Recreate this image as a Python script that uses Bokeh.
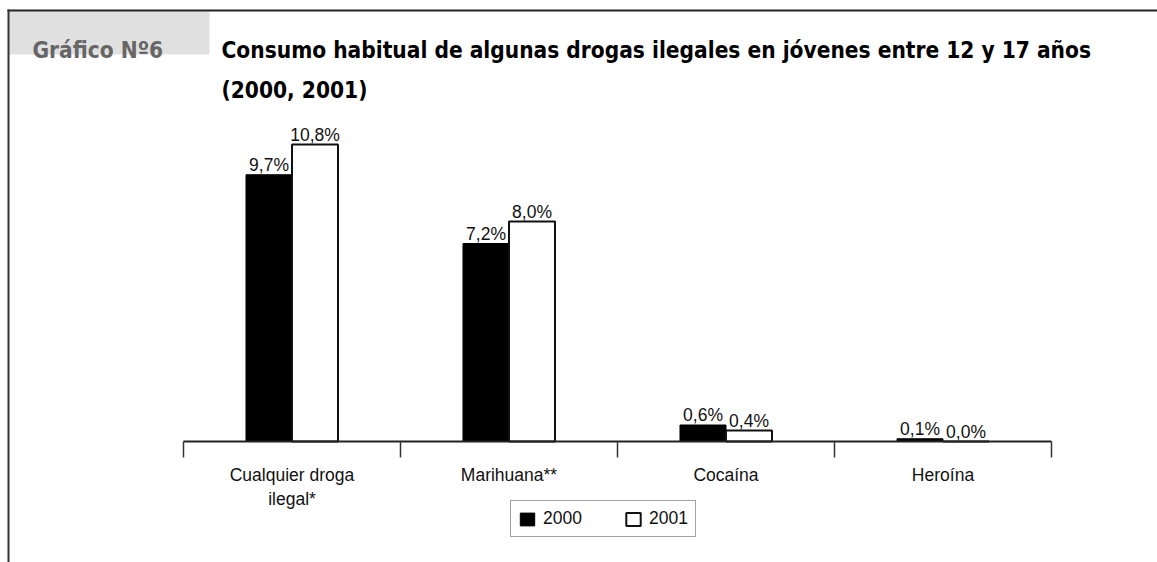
from bokeh.plotting import figure
from bokeh.models import (ColumnDataSource, Range1d, LinearAxis, FixedTicker,
                          Legend, LegendItem)
from bokeh.core.properties import value
from bokeh.embed import file_html
from bokeh.resources import INLINE

categories = ["Cualquier droga\nilegal*", "Marihuana**", "Cocaína", "Heroína"]
years = ["2000", "2001"]
values_2000 = [9.7, 7.2, 0.6, 0.1]
values_2001 = [10.8, 8.0, 0.4, 0.0]

badge_text = "Gráfico Nº6"
title_line1 = "Consumo habitual de algunas drogas ilegales en jóvenes entre 12 y 17 años"
title_line2 = "(2000, 2001)"

W, H = 1157, 562
AX_L, AX_R, AX_Y = 183, 1051, 441   # canvas px of the category axis
PX_PER_PCT = 27.5

BODY_FONT = "Liberation Sans"
HEAD_FONT = "'DejaVu Sans Condensed', 'Roboto Condensed', 'Liberation Sans Narrow', 'Arial Narrow', monospace"

ncat = len(categories)
px_per_cat = (AX_R - AX_L) / ncat

p = figure(width=W, height=H, output_backend="svg", toolbar_location=None,
           x_range=Range1d(-AX_L / px_per_cat, ncat + (W - AX_R) / px_per_cat),
           y_range=Range1d(-(H - AX_Y) / PX_PER_PCT, AX_Y / PX_PER_PCT),
           x_axis_location=None, y_axis_location=None, title=None)
p.extra_x_ranges = {"px": Range1d(0, W)}
p.extra_y_ranges = {"px": Range1d(H, 0)}
p.min_border_left = 0
p.min_border_right = 0
p.min_border_top = 0
p.min_border_bottom = 0
p.outline_line_color = None
p.xgrid.visible = False
p.ygrid.visible = False
p.background_fill_color = "white"
p.border_fill_color = "white"

# ---- header decorations (page frame, badge, title) ----
p.quad(left=[8], right=[209], top=[11], bottom=[54], x_range_name="px",
       y_range_name="px", fill_color="#e0e0e0", line_color=None)
p.quad(left=[7], right=[W], top=[9], bottom=[11], x_range_name="px",
       y_range_name="px", fill_color="#222222", line_color=None)
p.quad(left=[7], right=[9], top=[9], bottom=[H], x_range_name="px",
       y_range_name="px", fill_color="#333333", line_color=None)

p.text(x=[32], y=[49], text=[badge_text], x_range_name="px", y_range_name="px",
       text_font=value(HEAD_FONT), text_font_style="bold", text_font_size="22.5px",
       text_color="#666666", text_baseline="alphabetic")
p.text(x=[221, 221], y=[49, 89], text=[title_line1, title_line2],
       x_range_name="px", y_range_name="px",
       text_font=value(HEAD_FONT), text_font_style="bold", text_font_size="22.5px",
       text_color="#000000", text_baseline="alphabetic")

# ---- bars ----
bw = 0.212
centers = [i + 0.5 for i in range(ncat)]
src = ColumnDataSource(dict(
    x0=[c - bw / 2 for c in centers],
    x1=[c + bw / 2 for c in centers],
    v0=values_2000,
    v1=values_2001,
    t0=[f"{v:.1f}".replace(".", ",") + "%" for v in values_2000],
    t1=[f"{v:.1f}".replace(".", ",") + "%" for v in values_2001],
))

r0 = p.vbar(x="x0", top="v0", width=bw, bottom=0, source=src,
            fill_color="black", line_color="black", line_width=1)
r1 = p.vbar(x="x1", top="v1", width=bw, bottom=0, source=src,
            fill_color="white", line_color="#111111", line_width=2)

p.text(x="x0", y="v0", text="t0", source=src, text_align="center",
       text_baseline="bottom", y_offset=0, text_font=value(BODY_FONT),
       text_font_size="17.5px", text_color="#111111")
p.text(x="x1", y="v1", text="t1", source=src, text_align="center",
       text_baseline="bottom", y_offset=0, text_font=value(BODY_FONT),
       text_font_size="17.5px", text_color="#111111")

# ---- category axis ----
xaxis = LinearAxis(fixed_location=0, bounds=(0, ncat))
xaxis.ticker = FixedTicker(ticks=centers, minor_ticks=list(range(ncat + 1)))
xaxis.major_label_overrides = {c: lab for c, lab in zip(centers, categories)}
xaxis.major_tick_out = 0
xaxis.major_tick_in = 0
xaxis.major_tick_line_color = None
xaxis.minor_tick_out = 16
xaxis.minor_tick_in = 0
xaxis.minor_tick_line_color = "#333333"
xaxis.minor_tick_line_width = 1.5
xaxis.axis_line_color = "#222222"
xaxis.axis_line_width = 2
xaxis.major_label_standoff = 7
xaxis.major_label_text_font = BODY_FONT
xaxis.major_label_text_font_size = "17.5px"
xaxis.major_label_text_color = "#111111"
p.add_layout(xaxis, "below")

# ---- legend ----
legend = Legend(items=[LegendItem(label=years[0], renderers=[r0]),
                       LegendItem(label=years[1], renderers=[r1])],
                orientation="horizontal", location=(510, H - 537),
                glyph_width=18, glyph_height=16, label_standoff=7,
                spacing=42, padding=7, margin=0,
                border_line_color="#444444", border_line_width=1,
                background_fill_color="white", background_fill_alpha=1,
                label_text_font=BODY_FONT, label_text_font_size="17.5px",
                label_text_color="#111111")
p.add_layout(legend, "center")

open("out.html", "w").write(file_html(p, INLINE))
